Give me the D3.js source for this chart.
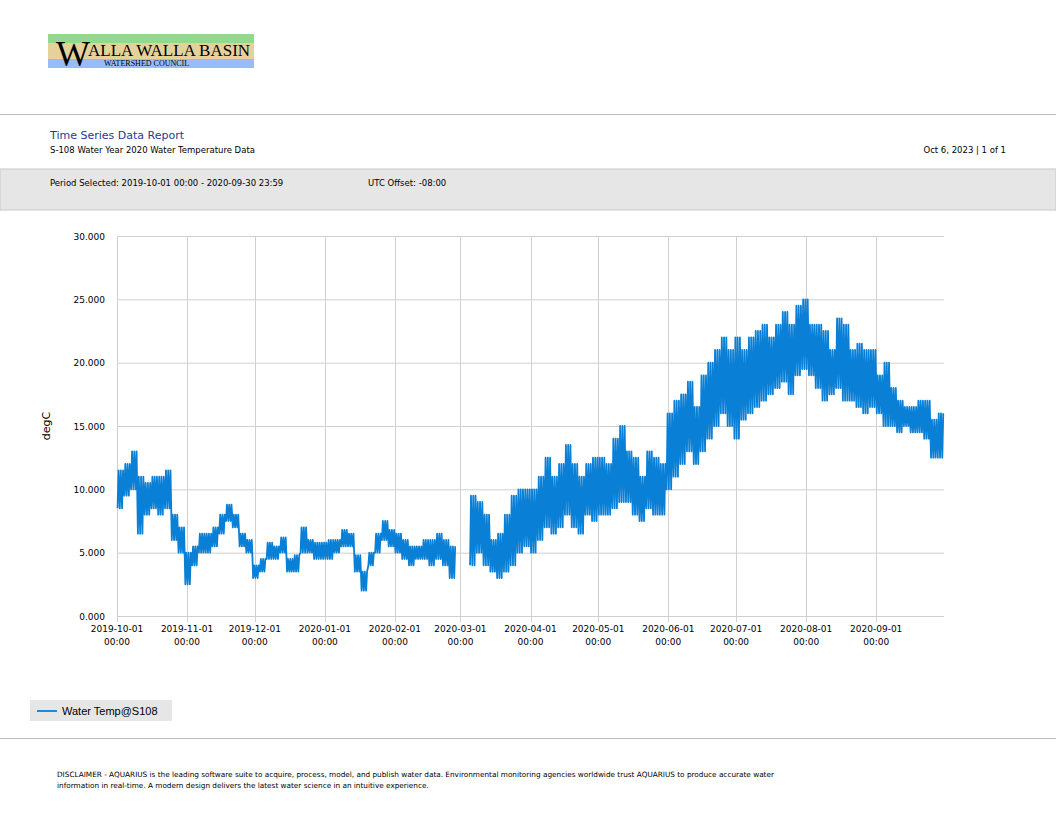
<!DOCTYPE html>
<html><head><meta charset="utf-8">
<script src="https://cdn.jsdelivr.net/npm/d3@7"></script>
<style>body{margin:0;background:#fff}svg{display:block}</style>
</head><body>
<svg id="c" width="1056" height="816"></svg>
<script>
// daily min / max water temperature (degC), read in 3-day blocks starting 2019-10-01
const lowOct = [8.5,9.5,10,6.5,8,8.5,8,8.5,6,5,2.5];
const highOct = [11.5,12,13,11,10.5,11,11,11.5,8,7,5];
const lowNov = [4,5,5,5.5,6.5,7.5,7,5.5,5,3];
const highNov = [5.5,6.5,6.5,7,8,8.8,8,6.5,6,4];
const lowDec = [3.5,4.5,4.5,5,3.5,3.5,5,5,4.5,4.5];
const highDec = [4.5,5.8,5.5,6.2,4.5,4.8,7,6,5.8,5.8];
const lowJan = [4.5,5,5.5,5.5,3.5,2,4,5,6,5.5];
const highJan = [6,6,6.8,6.5,4.8,3.5,5,6.5,7.5,6.8];
const lowFeb = [5,4.5,4,4.5,4.5,4,4.5,4,3,null];
const highFeb = [6.5,6,5.5,5.5,6,6,6.5,6,5.5,null];
const lowMar = [null,4,5,4,3.5,3,3.5,4,5,5.5];
const highMar = [null,9.5,9,8,6,6.5,8,9.5,10,10];
const lowApr = [5,6,7,6.5,7,8,7,6.5,8,7.5];
const highApr = [10,11,12.5,11,12,13.5,12,11,12,12.5];
const lowMay = [8,8,8.5,9,9,8,7.5,8.5,8,8,10];
const highMay = [12.5,12,14,15,13,12.5,11,13,12.5,12,16];
const lowJun = [11,12,13,12,13,14,15,16,15,14];
const highJun = [17,17.5,18.5,16.5,19,20,21,22,21,22];
const lowJul = [15.5,16,16.5,17,17.5,18,18.5,17.5,19,19.5];
const highJul = [21,22,22.5,23,22,23,24,23,24.5,25];
const lowAug = [19,18,17,17.5,18,17,17,16.5,16,16.5];
const highAug = [23,23,22.5,21,23.5,23,21,21.5,21,21];
const lowSep = [16,15,15,14.5,15,14.5,14.5,14,12.5,12.5];
const highSep = [19,20,18,17,16.5,16.5,17,17,15.5,16];

const yTicks = [0,5,10,15,20,25,30];
const xTickDates = ["2019-10-01","2019-11-01","2019-12-01","2020-01-01","2020-02-01","2020-03-01",
  "2020-04-01","2020-05-01","2020-06-01","2020-07-01","2020-08-01","2020-09-01"];

const lows = [].concat(lowOct,lowNov,lowDec,lowJan,lowFeb,lowMar,lowApr,lowMay,lowJun,lowJul,lowAug,lowSep);
const highs = [].concat(highOct,highNov,highDec,highJan,highFeb,highMar,highApr,highMay,highJun,highJul,highAug,highSep);
const start = new Date(2019,9,1);
// each block: one diurnal cycle (morning min, afternoon max) per day
const pts = [];
lows.forEach((lo, i) => {
  for (let d = 0; d < 3; d++) {
    const t = d3.timeDay.offset(start, i*3 + d);
    pts.push({t: d3.timeHour.offset(t, 6), v: lo});
    pts.push({t: d3.timeHour.offset(t, 16), v: highs[i]});
  }
});

const svg = d3.select('#c');
const font = 'DejaVu Sans, sans-serif';

// logo
const logo = svg.append('g');
logo.append('rect').attr('x',48).attr('y',34).attr('width',206).attr('height',9).attr('fill','#93d98c');
logo.append('rect').attr('x',48).attr('y',43).attr('width',206).attr('height',16).attr('fill','#e5d29b');
logo.append('rect').attr('x',48).attr('y',59).attr('width',206).attr('height',9).attr('fill','#99bbf8');
logo.append('text').attr('x',56).attr('y',66).attr('font-family','Liberation Serif, serif').attr('font-size',36).text('W');
logo.append('text').attr('x',88).attr('y',56).attr('font-family','Liberation Serif, serif').attr('font-size',17).text('ALLA WALLA BASIN');
logo.append('text').attr('x',104).attr('y',66).attr('font-family','Liberation Serif, serif').attr('font-size',8).text('WATERSHED COUNCIL');

// header
svg.append('line').attr('x1',0).attr('x2',1056).attr('y1',114.5).attr('y2',114.5).attr('stroke','#bbb');
svg.append('text').attr('x',50).attr('y',139).attr('font-family',font).attr('font-size',11).attr('fill','#1f3a93').text('Time Series Data Report');
svg.append('text').attr('x',50).attr('y',153).attr('font-family',font).attr('font-size',8.5).text('S-108 Water Year 2020 Water Temperature Data');
svg.append('text').attr('x',1006).attr('y',153).attr('text-anchor','end').attr('font-family',font).attr('font-size',8.5).text('Oct 6, 2023 | 1 of 1');
svg.append('rect').attr('x',0).attr('y',169).attr('width',1056).attr('height',41).attr('fill','#e6e6e6').attr('stroke','#c8c8c8');
svg.append('text').attr('x',50).attr('y',186).attr('font-family',font).attr('font-size',8.5).text('Period Selected: 2019-10-01 00:00 - 2020-09-30 23:59');
svg.append('text').attr('x',368).attr('y',186).attr('font-family',font).attr('font-size',8.5).text('UTC Offset: -08:00');

// chart
const x = d3.scaleTime().domain([start, new Date(2020,9,1)]).range([117, 944]);
const y = d3.scaleLinear().domain([0,30]).range([616, 236]);
const g = svg.append('g');
g.selectAll('.hg').data(yTicks).join('line').attr('x1',117).attr('x2',944)
  .attr('y1',d=>y(d)+0.5).attr('y2',d=>y(d)+0.5).attr('stroke','#d0d0d0');
const xt = xTickDates.map(d => d3.timeParse('%Y-%m-%d')(d));
g.selectAll('.vg').data(xt).join('line').attr('y1',236).attr('y2',622)
  .attr('x1',d=>Math.round(x(d))+0.5).attr('x2',d=>Math.round(x(d))+0.5).attr('stroke','#d0d0d0');
g.selectAll('.yl').data(yTicks).join('text').attr('x',105).attr('y',d=>y(d)+3.5).attr('text-anchor','end')
  .attr('font-family',font).attr('font-size',9).text(d=>d3.format('.3f')(d));
const xl = g.selectAll('.xl').data(xt).join('text').attr('text-anchor','middle').attr('font-family',font).attr('font-size',9);
xl.append('tspan').attr('x',d=>x(d)).attr('y',632).text(d3.timeFormat('%Y-%m-%d'));
xl.append('tspan').attr('x',d=>x(d)).attr('y',645).text('00:00');
svg.append('text').attr('transform','translate(50,426) rotate(-90)').attr('text-anchor','middle')
  .attr('font-family',font).attr('font-size',11).text('degC');

const line = d3.line().defined(d => d.v !== null).x(d => x(d.t)).y(d => y(d.v));
g.append('path').datum(pts).attr('d',line).attr('fill','none').attr('stroke','#0a7fd6').attr('stroke-width',1.8).attr('stroke-linejoin','round');

// legend
svg.append('rect').attr('x',30).attr('y',700).attr('width',142).attr('height',21).attr('fill','#e6e6e6');
svg.append('line').attr('x1',37).attr('x2',57).attr('y1',711).attr('y2',711).attr('stroke','#0a7fd6').attr('stroke-width',1.8);
svg.append('text').attr('x',62).attr('y',715).attr('font-family','Liberation Sans, Arial, sans-serif').attr('font-size',11).text('Water Temp@S108');

// footer
svg.append('line').attr('x1',0).attr('x2',1056).attr('y1',738.5).attr('y2',738.5).attr('stroke','#bbb');
svg.append('text').attr('x',57).attr('y',777).attr('font-family',font).attr('font-size',7.3)
  .text('DISCLAIMER - AQUARIUS is the leading software suite to acquire, process, model, and publish water data. Environmental monitoring agencies worldwide trust AQUARIUS to produce accurate water');
svg.append('text').attr('x',57).attr('y',788).attr('font-family',font).attr('font-size',7.3)
  .text('information in real-time. A modern design delivers the latest water science in an intuitive experience.');
</script>
</body></html>
